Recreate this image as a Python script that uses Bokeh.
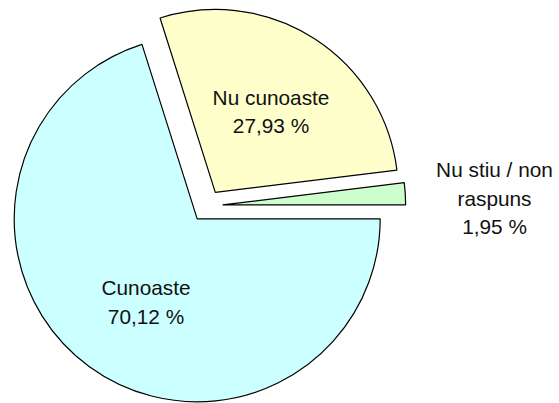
import numpy as np
from bokeh.plotting import figure
from bokeh.models import Range1d
from bokeh.core.properties import value
from bokeh.embed import file_html
from bokeh.resources import INLINE

# ---- data ----
categories = ["Nu stiu / non raspuns", "Nu cunoaste", "Cunoaste"]
label_lines = [["Nu stiu / non", "raspuns"], ["Nu cunoaste"], ["Cunoaste"]]
percent_values = [1.95, 27.93, 70.12]
slice_colors = ["#CCFFCC", "#FFFFCC", "#CCFFFF"]

# ---- layout (pixels of the reference picture) ----
W, H = 559, 403
def sx(x):
    return x
def sy(y):
    return H - y

center_px = (206.15, 205.4)
radius = 183
explode = 16
start0 = 0.0
label_first_baseline = [(494, 169.3), (270.5, 96.7), (145.5, 287.3)]
line_step = 28.5

p = figure(width=W, height=H, output_backend="svg", toolbar_location=None,
           x_range=Range1d(0, W), y_range=Range1d(0, H),
           x_axis_location=None, y_axis_location=None, min_border=0)
p.grid.visible = False
p.outline_line_color = None
p.background_fill_color = "white"
p.border_fill_color = "white"

vals = np.array(percent_values, dtype=float)
frac = vals / vals.sum()
ends = start0 + np.cumsum(frac) * 2 * np.pi
starts = ends - frac * 2 * np.pi
mids = (starts + ends) / 2

cx, cy = sx(center_px[0]), sy(center_px[1])
for i in range(len(categories)):
    vx = cx + explode * np.cos(mids[i])
    vy = cy + explode * np.sin(mids[i])
    p.wedge(x=[vx], y=[vy], radius=radius, start_angle=[starts[i]], end_angle=[ends[i]],
            fill_color=slice_colors[i], line_color="black", line_width=1.2)

font = value("Liberation Sans")
for i in range(len(categories)):
    lines = list(label_lines[i]) + [f"{percent_values[i]:.2f}".replace(".", ",") + " %"]
    bx, by = label_first_baseline[i]
    xs = [sx(bx)] * len(lines)
    ys = [sy(by + k * line_step) for k in range(len(lines))]
    p.text(x=xs, y=ys, text=lines, text_font=font, text_font_size="20.8px",
           text_align="center", text_baseline="alphabetic", text_color="#111111")

open("out.html", "w").write(file_html(p, INLINE))
